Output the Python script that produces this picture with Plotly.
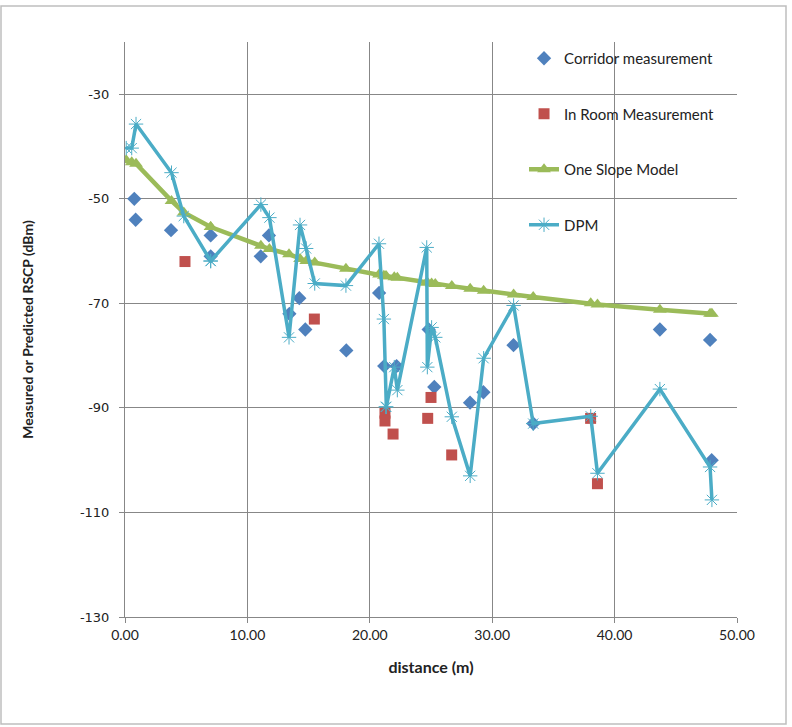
import plotly.graph_objects as go

# ---------------- data ----------------
corridor_x = [0.76, 0.87, 3.76, 7.0, 7.0, 11.09, 11.76, 13.43, 14.24, 14.73, 18.08,
              20.76, 21.18, 22.19, 24.81, 25.27, 28.19, 29.28, 31.74, 33.36, 43.7, 47.8, 47.93]
corridor_y = [-50, -54, -56, -57, -61, -61, -57, -72, -69, -75, -79,
              -68, -82, -82, -75, -86, -89, -87, -78, -93, -75, -77, -100]

room_x = [4.9, 15.47, 21.24, 21.24, 21.9, 24.73, 25.0, 26.69, 38.04, 38.6]
room_y = [-62, -73, -91, -92.5, -95, -92, -88, -99, -92, -104.5]

model_x = [0.1, 0.55, 0.9, 3.8, 4.8, 7.0, 7.0, 11.1, 11.8, 13.4, 14.3, 14.8, 15.5, 18.05,
           20.75, 21.15, 21.3, 21.35, 22.0, 22.25, 24.65, 24.7, 25.05, 25.35, 26.7, 28.2,
           29.3, 31.75, 33.35, 38.05, 38.6, 43.7, 47.8, 47.95]

one_slope_y = [-42.6, -43.0, -43.3, -50.4, -52.6, -55.4, -55.4, -59.0, -59.6, -60.6, -61.5,
               -61.9, -62.2, -63.4, -64.5, -64.7, -64.8, -64.8, -65.0, -65.1, -66.0, -66.0,
               -66.2, -66.3, -66.7, -67.2, -67.6, -68.3, -68.8, -70.0, -70.2, -71.2, -72.0, -72.0]

dpm_y = [-40.3, -40.3, -35.7, -45.0, -53.3, -61.9, -61.9, -51.1, -53.6, -76.5, -55.0,
         -59.5, -66.2, -66.6, -58.6, -73.0, -89.8, -89.8, -82.2, -86.6, -59.3, -82.2,
         -74.6, -76.5, -91.7, -103.0, -80.5, -70.4, -93.0, -91.6, -102.5, -86.4, -101.3, -107.6]

x_ticks = [0, 10, 20, 30, 40, 50]
x_tick_labels = ["0.00", "10.00", "20.00", "30.00", "40.00", "50.00"]
y_ticks = [-130, -110, -90, -70, -50, -30]
y_tick_labels = ["-130", "-110", "-90", "-70", "-50", "-30"]

# ---------------- figure ----------------
BLUE = "#4F81BD"
RED = "#C0504D"
GREEN = "#9BBB59"
CYAN = "#4BACC6"
GRID = "#878787"

fig = go.Figure()

fig.add_trace(go.Scatter(
    x=corridor_x, y=corridor_y, mode="markers", name="Corridor measurement",
    legendgroup="a",
    marker=dict(symbol="diamond", size=11, color=BLUE, line=dict(width=0))))

fig.add_trace(go.Scatter(
    x=room_x, y=room_y, mode="markers", name="In Room Measurement",
    legendgroup="b",
    marker=dict(symbol="square", size=11, color=RED, line=dict(width=0))))

fig.add_trace(go.Scatter(
    x=model_x, y=one_slope_y, mode="lines+markers", name="One Slope Model",
    legendgroup="c",
    line=dict(color=GREEN, width=4.5),
    marker=dict(symbol="triangle-up", size=12, color=GREEN)))

fig.add_trace(go.Scatter(
    x=model_x, y=dpm_y, mode="lines+markers", name="DPM",
    legendgroup="d",
    line=dict(color=CYAN, width=3.5),
    marker=dict(symbol="asterisk-open", size=12, color=CYAN,
                line=dict(width=1, color="#7FCDDF"))))

L, R, T, B = 125, 55, 42, 110

fig.update_layout(
    width=792, height=727,
    margin=dict(l=L, r=R, t=T, b=B, pad=0),
    paper_bgcolor="white", plot_bgcolor="white",
    showlegend=True,
    legend=dict(
        x=0.652, y=1.0, xanchor="left", yanchor="top",
        bgcolor="rgba(0,0,0,0)", borderwidth=0,
        font=dict(family="Lato, sans-serif", size=15, color="#222222"),
        traceorder="grouped", tracegroupgap=33,
        itemwidth=30,
    ),
    font=dict(family="Lato, sans-serif", color="#222222"),
)

fig.update_xaxes(
    range=[0, 50], tickmode="array", tickvals=x_ticks, ticktext=x_tick_labels,
    showgrid=True, gridcolor=GRID, gridwidth=1,
    showline=True, linecolor=GRID, linewidth=1,
    ticks="outside", ticklen=5, tickcolor=GRID,
    zeroline=False,
    tickfont=dict(family="Lato, sans-serif", size=14, color="#222222"),
    title=dict(text="<b>distance (m)</b>", standoff=20,
               font=dict(family="Lato, sans-serif", size=16, color="#222222")),
)

fig.update_yaxes(
    range=[-130, -20], tickmode="array", tickvals=y_ticks, ticktext=y_tick_labels,
    showgrid=True, gridcolor=GRID, gridwidth=1,
    showline=True, linecolor=GRID, linewidth=1,
    ticks="outside", ticklen=5, tickcolor=GRID,
    ticklabelstandoff=7,
    zeroline=False,
    tickfont=dict(family="DejaVu Sans, sans-serif", size=13, color="#222222"),
    title=dict(text="<b>Measured or Predicted RSCP (dBm)</b>", standoff=42,
               font=dict(family="Lato, sans-serif", size=14, color="#222222")),
)

pw = 792 - L - R
ph = 727 - T - B

def px_x(p):
    return (p - L) / pw

def px_y(p):
    return (727 - B - p) / ph

# white panel behind the legend (hides gridlines, not data)
fig.add_shape(type="rect", xref="paper", yref="paper",
              x0=px_x(472), x1=1.0, y0=px_y(250), y1=1.0,
              fillcolor="white", line=dict(width=0), layer="between")

# outer chart border
fig.add_shape(type="rect", xref="paper", yref="paper",
              x0=px_x(1), x1=px_x(786), y0=px_y(724), y1=px_y(6),
              fillcolor="rgba(0,0,0,0)", line=dict(color="#BEBEBE", width=1.5),
              layer="above")

fig.write_html("out.html")
